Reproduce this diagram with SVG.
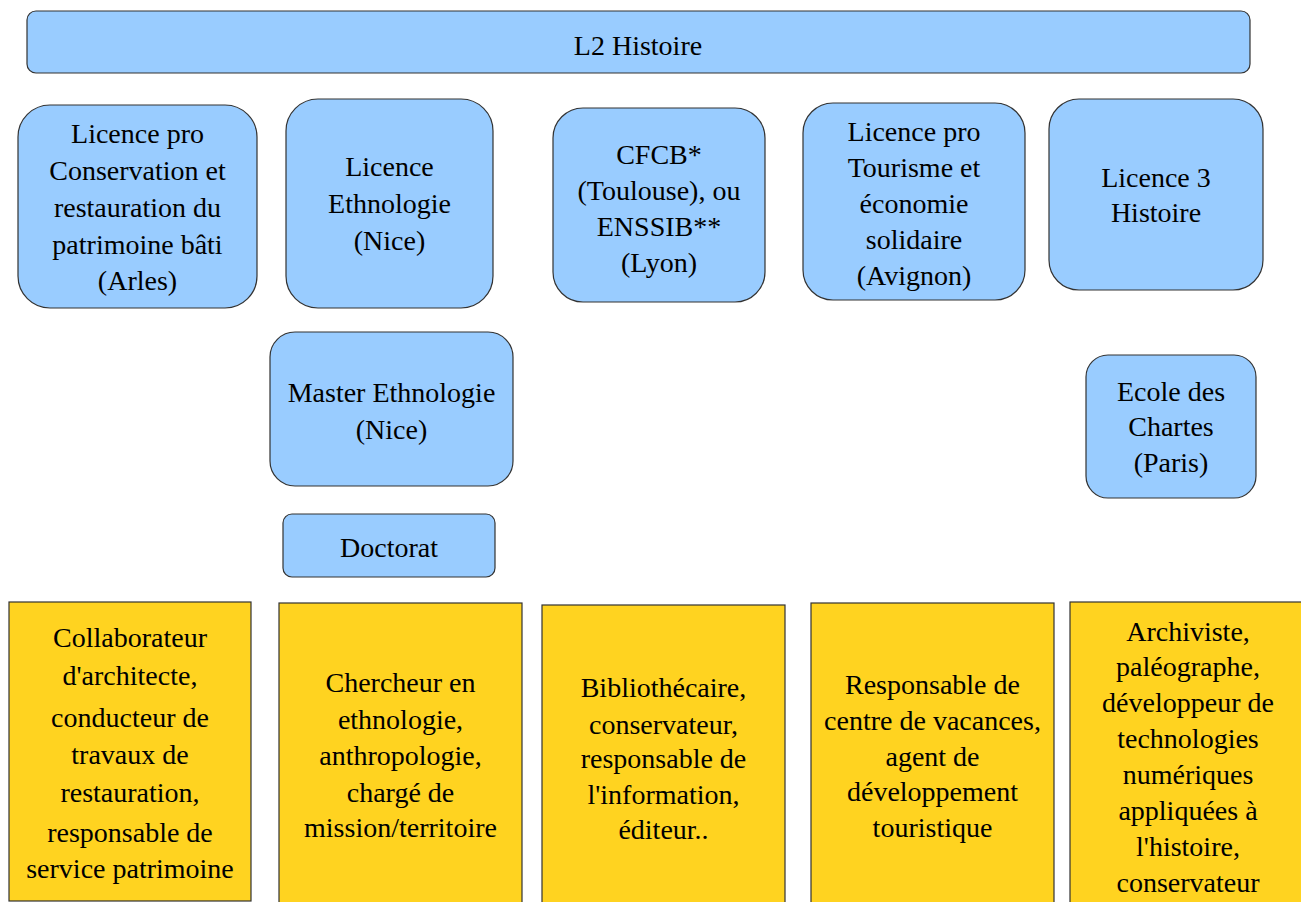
<svg xmlns="http://www.w3.org/2000/svg" width="1301" height="902" viewBox="0 0 1301 902">
<style>
.b{fill:#99ccff;stroke:#333;stroke-width:1.2}
.y{fill:#ffd320;stroke:#333;stroke-width:1.2}
.t{font-family:"Liberation Serif","Times New Roman",Times,Tinos,"DejaVu Serif",serif;font-size:28px;fill:#000;text-anchor:middle}
</style>
<rect width="1301" height="902" fill="#fff"/>
<g id="connectors"></g>
<g id="n-l2"><rect class="b" x="27" y="11" width="1223" height="62" rx="9"/><text class="t" x="638" y="55" font-family="Liberation Serif, serif">L2 Histoire</text></g>
<g id="n-lpro-cons"><rect class="b" x="18" y="105" width="239" height="203" rx="32"/>
<text class="t"><tspan x="137.5" y="143">Licence pro</tspan><tspan x="137.5" y="180">Conservation et</tspan><tspan x="137.5" y="217">restauration du</tspan><tspan x="137.5" y="254">patrimoine bâti</tspan><tspan x="137.5" y="290">(Arles)</tspan></text></g>
<g id="n-lic-ethno"><rect class="b" x="286" y="99" width="207" height="209" rx="32"/>
<text class="t"><tspan x="389.5" y="176">Licence</tspan><tspan x="389.5" y="213">Ethnologie</tspan><tspan x="389.5" y="250">(Nice)</tspan></text></g>
<g id="n-cfcb"><rect class="b" x="553" y="108" width="212" height="194" rx="30"/>
<text class="t"><tspan x="659" y="164">CFCB*</tspan><tspan x="659" y="200">(Toulouse), ou</tspan><tspan x="659" y="236">ENSSIB**</tspan><tspan x="659" y="272">(Lyon)</tspan></text></g>
<g id="n-lpro-tour"><rect class="b" x="803" y="103" width="222" height="197" rx="30"/>
<text class="t"><tspan x="914" y="141">Licence pro</tspan><tspan x="914" y="177">Tourisme et</tspan><tspan x="914" y="213">économie</tspan><tspan x="914" y="249">solidaire</tspan><tspan x="914" y="285">(Avignon)</tspan></text></g>
<g id="n-l3"><rect class="b" x="1049" y="99" width="214" height="191" rx="30"/>
<text class="t"><tspan x="1156" y="187">Licence 3</tspan><tspan x="1156" y="222">Histoire</tspan></text></g>
<g id="n-master"><rect class="b" x="270" y="332" width="243" height="154" rx="25"/>
<text class="t"><tspan x="391.5" y="402">Master Ethnologie</tspan><tspan x="391.5" y="439">(Nice)</tspan></text></g>
<g id="n-doct"><rect class="b" x="283" y="514" width="212" height="63" rx="9"/><text class="t" x="389" y="557">Doctorat</text></g>
<g id="n-chartes"><rect class="b" x="1086" y="355" width="170" height="143" rx="22"/>
<text class="t"><tspan x="1171" y="401">Ecole des</tspan><tspan x="1171" y="436">Chartes</tspan><tspan x="1171" y="472">(Paris)</tspan></text></g>
<g id="j1"><rect class="y" x="9" y="602" width="242" height="299"/>
<text class="t"><tspan x="130" y="647">Collaborateur</tspan><tspan x="130" y="685">d'architecte,</tspan><tspan x="130" y="727">conducteur de</tspan><tspan x="130" y="764">travaux de</tspan><tspan x="130" y="802">restauration,</tspan><tspan x="130" y="842">responsable de</tspan><tspan x="130" y="878">service patrimoine</tspan></text></g>
<g id="j2"><rect class="y" x="279" y="603" width="243" height="310"/>
<text class="t"><tspan x="400.5" y="692">Chercheur en</tspan><tspan x="400.5" y="729">ethnologie,</tspan><tspan x="400.5" y="765">anthropologie,</tspan><tspan x="400.5" y="802">chargé de</tspan><tspan x="400.5" y="837">mission/territoire</tspan></text></g>
<g id="j3"><rect class="y" x="542" y="605" width="243" height="310"/>
<text class="t"><tspan x="663.5" y="697">Bibliothécaire,</tspan><tspan x="663.5" y="734">conservateur,</tspan><tspan x="663.5" y="768">responsable de</tspan><tspan x="663.5" y="804">l'information,</tspan><tspan x="663.5" y="839">éditeur..</tspan></text></g>
<g id="j4"><rect class="y" x="811" y="603" width="243" height="310"/>
<text class="t"><tspan x="932.5" y="694">Responsable de</tspan><tspan x="932.5" y="730">centre de vacances,</tspan><tspan x="932.5" y="766">agent de</tspan><tspan x="932.5" y="801">développement</tspan><tspan x="932.5" y="837">touristique</tspan></text></g>
<g id="j5"><rect class="y" x="1070" y="602" width="240" height="310"/>
<text class="t"><tspan x="1188" y="641">Archiviste,</tspan><tspan x="1188" y="676">paléographe,</tspan><tspan x="1188" y="712">développeur de</tspan><tspan x="1188" y="748">technologies</tspan><tspan x="1188" y="784">numériques</tspan><tspan x="1188" y="820">appliquées à</tspan><tspan x="1188" y="856">l'histoire,</tspan><tspan x="1188" y="892">conservateur</tspan></text></g>
</svg>
